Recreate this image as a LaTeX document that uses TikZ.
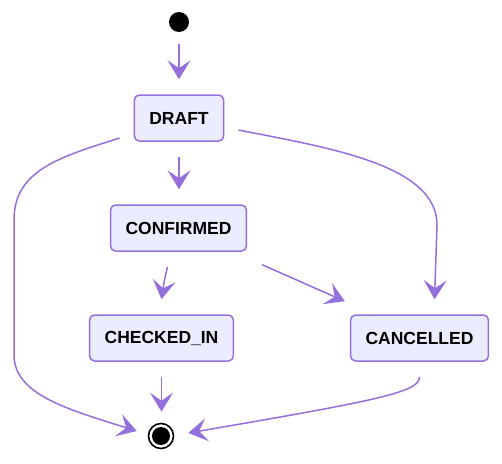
\documentclass[tikz,border=0pt]{standalone}
\usepackage{fontspec}
\setmainfont{Liberation Sans}
\usepackage{tikz}
\usetikzlibrary{arrows.meta}

\definecolor{edgecol}{HTML}{9370DB}
\definecolor{boxcol}{HTML}{ECECFF}

\tikzset{
	state/.style={draw=edgecol,fill=boxcol,rounded corners=5pt,line width=1.5pt,
		minimum height=46pt,inner xsep=15pt,font=\fontsize{17.5}{20}\selectfont\bfseries},
	flow/.style={draw=edgecol,line width=1.5pt,
		-{Stealth[length=19pt,width=23pt,inset=8pt]}}
}

\begin{document}
\begin{tikzpicture}[x=1pt,y=1pt]
	\useasboundingbox (0,0) rectangle (502,-463);
	
	\node (start) [circle,fill,inner sep=0pt,minimum size=20pt] at (179,-22) {};
	\node (final) [circle,draw,line width=1.6pt,inner sep=0pt,minimum size=25pt] at (161,-436) {};
	\fill (final) circle (9pt);
	
	\foreach \n/\t/\x/\y in {draft/DRAFT/179/118,confirmed/CONFIRMED/178.5/228,
		checked/CHECKED\_IN/161.5/338,cancelled/CANCELLED/419.5/338}{
		\node (\n) [state] at (\x,-\y) {\t};
	}
	
	\draw [flow,shorten <=12pt,shorten >=15pt] (start) -- (draft);
	\draw [flow,shorten <=15pt,shorten >=15pt] (draft.south) -- (draft.south |- confirmed.north);
	\draw [flow] ([xshift=-11pt,yshift=-15pt]confirmed.south) .. controls (164,-282) .. ([yshift=15pt]checked.north);
	\draw [flow,shorten <=15pt,shorten >=11pt] (checked.south) -- (checked.south |- final.north);
	\draw [flow] ([xshift=15pt,yshift=-13pt]confirmed.south east) -- ([xshift=-5pt,yshift=13pt]cancelled.north west);
	
	\draw [flow] ([xshift=14pt,yshift=-12pt]draft.east) .. controls (330,-148) and (437,-165) .. (437,-225) -- ([xshift=15pt,yshift=15pt]cancelled.north);
	\draw [flow] ([xshift=-14pt,yshift=-20pt]draft.west) .. controls (60,-157) and (14,-170) .. (14,-220)
		-- (14,-355) .. controls (14,-395) and (70,-410) .. ([xshift=-11pt,yshift=5pt]final.west);
	\draw [flow] ([yshift=-15pt]cancelled.south) .. controls (420,-392) and (380,-400) .. ([xshift=14pt,yshift=3pt]final.east);
	
\end{tikzpicture}
\end{document}
